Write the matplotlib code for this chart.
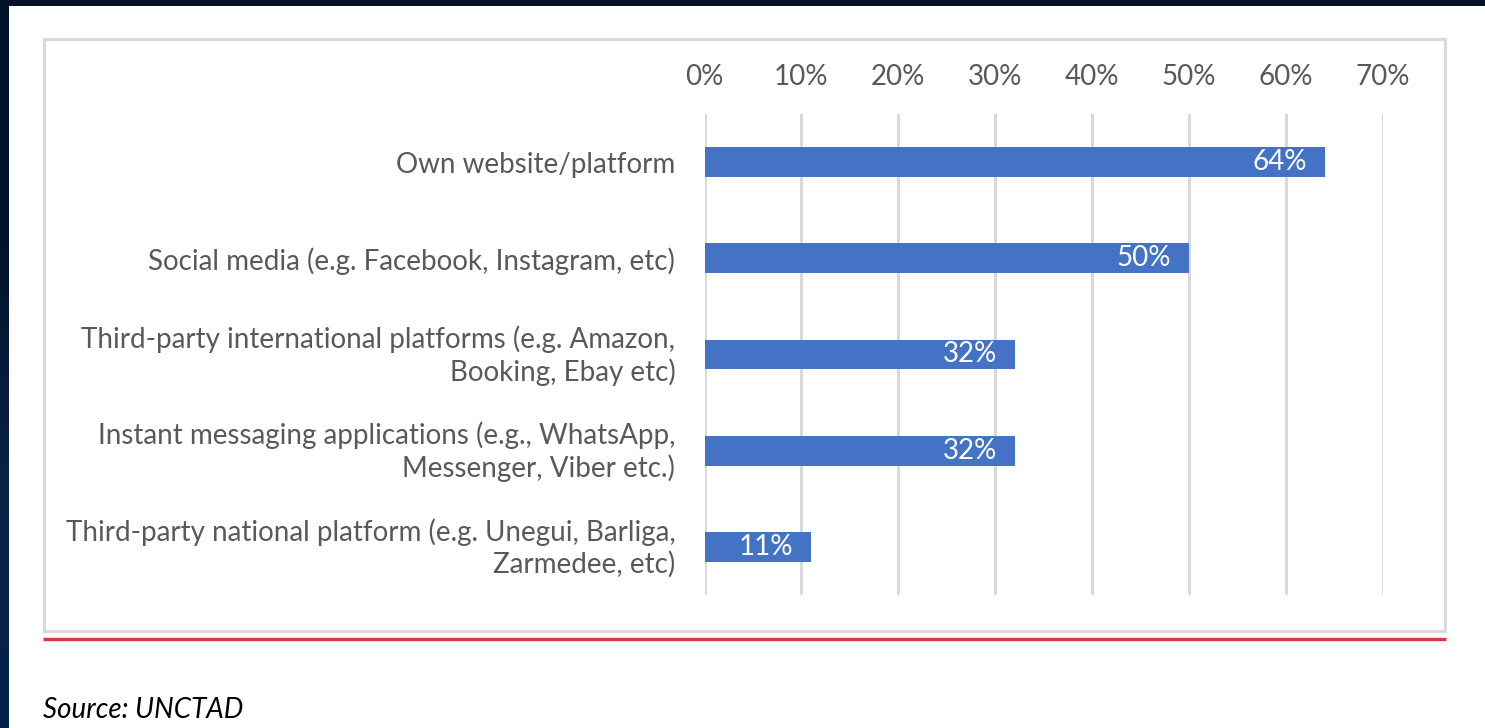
import numpy as np
import matplotlib
matplotlib.use("Agg")
import matplotlib.pyplot as plt
from matplotlib.patches import Rectangle
from matplotlib.lines import Line2D
from matplotlib.colors import LinearSegmentedColormap
from matplotlib.transforms import ScaledTranslation

# Channels used to sell online and share of respondents using each
categories = [
    "Own website/platform",
    "Social media (e.g. Facebook, Instagram, etc)",
    "Third-party international platforms (e.g. Amazon,\nBooking, Ebay etc)",
    "Instant messaging applications (e.g., WhatsApp,\nMessenger, Viber etc.)",
    "Third-party national platform (e.g. Unegui, Barliga,\nZarmedee, etc)",
]
shares = [0.64, 0.50, 0.32, 0.32, 0.11]
tick_values = [0.0, 0.1, 0.2, 0.3, 0.4, 0.5, 0.6, 0.7]
tick_labels = ["0%", "10%", "20%", "30%", "40%", "50%", "60%", "70%"]
source_text = "Source: UNCTAD"

W, H, DPI = 1485, 728, 100
FONT = "Lato"
FS = 20
TEXT_GRAY = "#595959"
BAR_BLUE = "#4472C4"
GRID_GRAY = "#d9d9d9"

fig = plt.figure(figsize=(W / DPI, H / DPI), dpi=DPI)
fig.patch.set_facecolor("white")

# dark slide edges (top and left)
bg = fig.add_axes([0, 0, 1, 1], zorder=-10)
bg.set_xlim(0, W)
bg.set_ylim(H, 0)
bg.axis("off")
grad = np.linspace(0, 1, 256).reshape(-1, 1)
edge_cmap = LinearSegmentedColormap.from_list(
    "edge", ["#00112a", "#02132b", "#0b2246", "#05214a"])
bg.imshow(grad, cmap=edge_cmap, extent=[0, 9, H, 0], aspect="auto")
bg.add_patch(Rectangle((0, 0), W, 6, color="#01112a", lw=0))

# chart frame and red rule underneath
bg.add_patch(Rectangle((43.5, 38.5), 1401, 592, fill=False,
                       edgecolor=GRID_GRAY, lw=2.3))
bg.add_line(Line2D([43, 1446], [639, 639], color="#d9383f", lw=2.4,
                   solid_capstyle="butt"))
bg.text(43, 718, source_text, fontsize=FS, fontstyle="italic",
        family=FONT, color="black", va="baseline", ha="left")

# bar chart
ax = fig.add_axes([704.5 / W, 1 - 595 / H, (1383 - 704.5) / W, (595 - 114) / H])
y = np.arange(len(categories))
ax.barh(y, shares, height=0.31, color=BAR_BLUE, zorder=3)
ax.set_xlim(0, 0.7)
ax.set_ylim(len(categories) - 0.5, -0.5)
ax.set_xticks(tick_values)
ax.set_xticklabels(tick_labels)
ax.xaxis.tick_top()
ax.set_yticks(y)
ax.set_yticklabels(categories, ha="right", multialignment="right",
                   linespacing=1.25)
ax.tick_params(axis="both", length=0, labelsize=FS, labelcolor=TEXT_GRAY)
ax.tick_params(axis="x", pad=17)
ax.tick_params(axis="y", pad=21)
for lbl in ax.get_xticklabels() + ax.get_yticklabels():
    lbl.set_family(FONT)
# nudge two-line category labels up so the block centres on its bar
for lbl in ax.get_yticklabels():
    if "\n" in lbl.get_text():
        lbl.set_transform(lbl.get_transform()
                          + ScaledTranslation(0, 4 / DPI, fig.dpi_scale_trans))
ax.grid(axis="x", color=GRID_GRAY, lw=2.2, zorder=0)
for s in ax.spines.values():
    s.set_visible(False)

for yi, v in zip(y, shares):
    ax.annotate(f"{v * 100:.0f}%", xy=(v, yi), xytext=(-18, 0),
                textcoords="offset pixels", ha="right", va="center",
                color="white", fontsize=FS, family=FONT, zorder=4)

fig.savefig("out.png", dpi=DPI)
